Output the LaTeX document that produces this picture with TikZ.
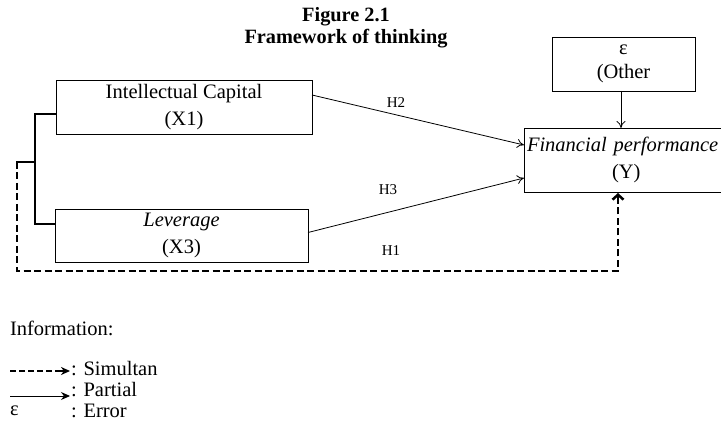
\documentclass[tikz,border=0pt]{standalone}
\usepackage{fontspec}
\setmainfont{Liberation Serif}
\usetikzlibrary{arrows.meta,calc}
\begin{document}
\begin{tikzpicture}[x=1pt,y=-1pt,
  every node/.style={inner sep=0pt,outer sep=0pt},
  txt/.style={font=\fontsize{20.5}{27}\selectfont},
  box/.style={draw,line width=0.9pt,txt,align=center,anchor=north west},
  hlab/.style={font=\fontsize{15}{18}\selectfont},
  conn/.style={line width=0.8pt,-{To[length=7pt,width=9pt]}},
  brk/.style={line width=2.8pt},
  dsh/.style={line width=2.5pt,dash pattern=on 7pt off 3.5pt},
  dshtip/.style={-{Straight Barb[length=5pt,width=11pt]}}
]
\useasboundingbox (0,0) rectangle (721,422);
\fill[white] (0,0) rectangle (721,422);

% title
\node[font=\fontsize{20.3}{22}\selectfont\bfseries,align=center] (title) at (346,28) {Figure 2.1\\Framework of thinking};

% boxes
\node[box,minimum width=256pt,minimum height=54pt] (X1) at (56,80) {Intellectual Capital\\(X1)};
\node[box,minimum width=253pt,minimum height=53pt] (X3) at (55,209) {\textit{Leverage}\\(X3)};
\node[box,minimum width=143pt,minimum height=54pt,font=\fontsize{20.5}{24}\selectfont] (E) at (552,37) {\raisebox{0pt}{ε}\\(Other};
\node[box,align=left,text width=202pt,inner xsep=3pt,minimum height=64pt] (Y) at (524,128) {\textit{Financial performance}\\\hspace*{85pt}(Y)};

% arrows
\draw[conn] ($(X1.north east)+(0,15)$) -- ($(Y.north west)+(0,17)$);
\draw[conn] ($(X3.east)+(0,-3)$) -- ($(Y.north west)+(0,50)$);
\draw[conn] (E.south -| 621,0) -- (Y.north -| 621,0);

\node[hlab] (H2) at (396,103) {H2};
\node[hlab] (H3) at (388,190) {H3};
\node[hlab] (H1) at (391,251) {H1};

% bracket
\coordinate (b1) at (35,114);
\coordinate (b2) at (35,224);
\coordinate (bm) at (35,162);
\coordinate (d0) at (17,162);
\coordinate (d1) at (17,271);
\coordinate (d2) at (618,271);
\draw[brk] (X1.west |- b1) -- (b1) -- (b2) -- (X3.west |- b2);
\draw[brk] (bm) -- ($(d0)+(-1.3,0)$);
\draw[dsh] (d0) -- (d1) -- (d2) -- ($(d2 |- Y.south)+(0,4)$);
\draw[line width=2.5pt,dshtip] ($(d2 |- Y.south)+(0,6)$) -- ($(d2 |- Y.south)+(0,1)$);

% legend
\node[txt,anchor=west] (info) at (10,328) {Information:};
\coordinate (l1a) at (10,371);
\coordinate (l1b) at (70,371);
\coordinate (l2a) at (10,396);
\coordinate (l2b) at (70,396);
\draw[line width=2.2pt,dash pattern=on 5.5pt off 3.5pt] (l1a) -- ($(l1b)+(-8,0)$);
\draw[line width=2pt,-{Stealth[length=9pt,width=8pt]}] ($(l1b)+(-9,0)$) -- (l1b);
\draw[line width=0.9pt,-{Stealth[length=9pt,width=8pt]}] (l2a) -- (l2b);
\node[txt,anchor=west] (simul) at (71,369) {: Simultan};
\node[txt,anchor=west] (part) at (71,390) {: Partial};
\node[txt,anchor=west] (eps) at (10,411) {ε};
\node[txt,anchor=west] (err) at (71,411) {: Error};
\end{tikzpicture}
\end{document}
